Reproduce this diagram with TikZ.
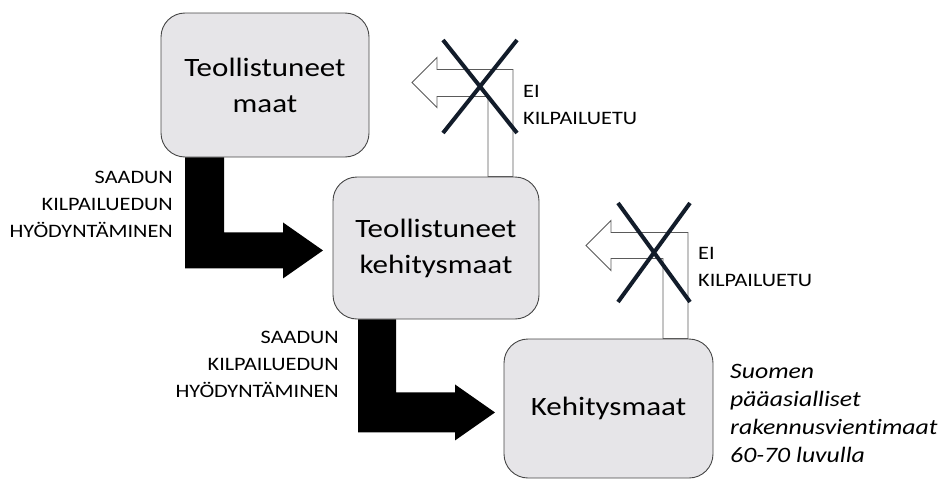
\documentclass[tikz,border=0pt]{standalone}
\usepackage{fontspec}
\setmainfont{Carlito}[FakeStretch=1.17, Ligatures=NoCommon]
\definecolor{boxfill}{RGB}{230,229,232}
\definecolor{boxline}{RGB}{70,70,70}
\definecolor{crossblue}{RGB}{18,28,42}
\definecolor{hollowline}{RGB}{90,90,90}
\tikzset{
  box/.style={draw=boxline, fill=boxfill, rounded corners=24pt, line width=0.9pt,
    align=center, inner sep=0pt, font=\fontsize{26.5}{36}\selectfont},
  blockarrow/.style={fill=black},
  hollowarrow/.style={draw=hollowline, fill=white, line width=0.8pt},
  crossline/.style={draw=crossblue, line width=4pt},
  smalltext/.style={inner sep=0pt, font=\fontsize{19}{27}\selectfont},
  notetext/.style={inner sep=0pt, align=left, font=\fontsize{22}{28}\selectfont\itshape}
}
\begin{document}
\begin{tikzpicture}[x=1pt,y=-1pt]
\useasboundingbox (0,0) rectangle (949,479);
% boxes
\node[box, minimum width=208pt, minimum height=144pt] (b1) at (265,85) {Teollistuneet\\maat};
\node[box, minimum width=206pt, minimum height=142pt] (b2) at (436,248) {Teollistuneet\\kehitysmaat};
\node[box, minimum width=209pt, minimum height=139pt] (b3) at (608.5,408.5) {Kehitysmaat};
% black bent arrows
\path[blockarrow] ([xshift=-80pt]b1.south) -- ++(39,0) -- ++(0,75) -- ++(59,0) -- ++(0,-10)
  -- ++(40,28) -- ++(-40,28) -- ++(0,-10) -- ++(-98,0) -- cycle;
\path[blockarrow] ([xshift=-78pt]b2.south) -- ++(38,0) -- ++(0,73) -- ++(59,0) -- ++(0,-8)
  -- ++(40,28) -- ++(-40,28) -- ++(0,-8) -- ++(-97,0) -- cycle;
% hollow bent arrows
\draw[hollowarrow] ([xshift=52pt]b2.north) -- ++(0,-80) -- ++(-51,0) -- ++(0,11)
  -- ++(-25,-25) -- ++(25,-25) -- ++(0,12) -- ++(76,0) -- ++(0,107) -- cycle;
\draw[hollowarrow] ([xshift=54.5pt]b3.north) -- ++(0,-80) -- ++(-52,0) -- ++(0,12)
  -- ++(-25,-25) -- ++(25,-25) -- ++(0,12) -- ++(77,0) -- ++(0,106) -- cycle;
% crosses
\draw[crossline] (443,40) -- (517,133);
\draw[crossline] (517,40) -- (443,133);
\draw[crossline] (618,203) -- (690,302);
\draw[crossline] (690,203) -- (618,302);
% texts (base anchor = baseline of last line)
\node[smalltext, anchor=base east, align=right] (t1) at (173,237) {SAADUN\\KILPAILUEDUN\\HYÖDYNTÄMINEN};
\node[smalltext, anchor=base east, align=right] (t2) at (339,397) {SAADUN\\KILPAILUEDUN\\HYÖDYNTÄMINEN};
\node[smalltext, anchor=base west, align=left] (e1) at (523,124) {EI\\KILPAILUETU};
\node[smalltext, anchor=base west, align=left] (e2) at (698,286) {EI\\KILPAILUETU};
\node[notetext, anchor=base west] (n1) at (730,462) {Suomen\\pääasialliset\\rakennusvientimaat\\60-70 luvulla};
\end{tikzpicture}
\end{document}
